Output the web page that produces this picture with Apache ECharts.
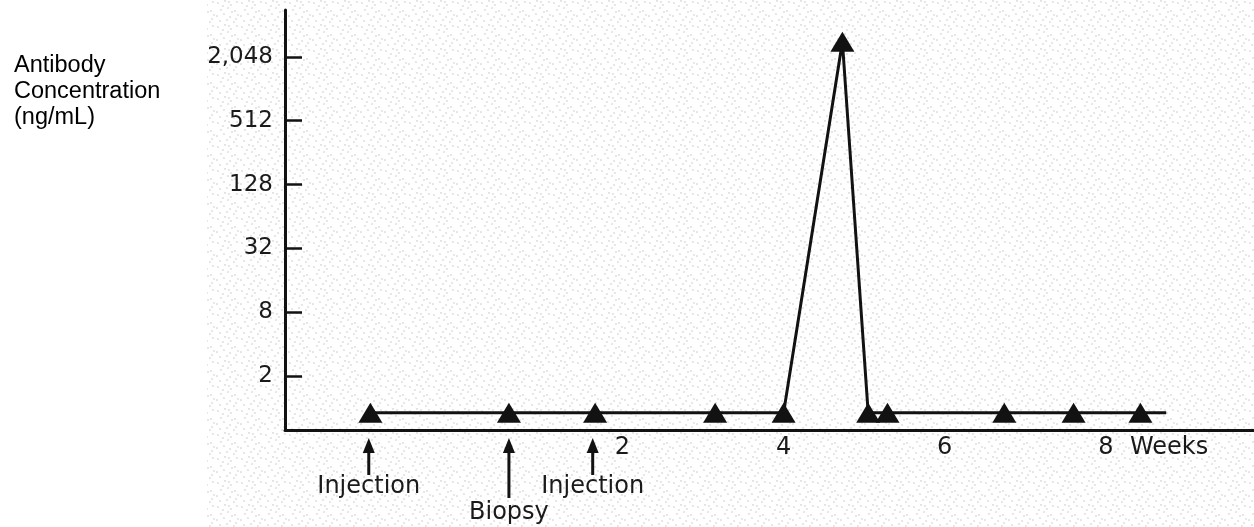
<!DOCTYPE html>
<html><head><meta charset="utf-8">
<script src="https://cdn.jsdelivr.net/npm/echarts@6/dist/echarts.min.js"></script>
<style>html,body{margin:0;padding:0;background:#fff}#c{width:1254px;height:527px}</style>
</head><body><div id="c"></div>
<script>
// ---- data ----
const weeks = [-1.13, 0.59, 1.66, 3.15, 4.0, 4.73, 5.05, 5.29, 6.74, 7.60, 8.43];
const concentration = [0.9, 0.9, 0.9, 0.9, 0.9, 2850, 0.9, 0.9, 0.9, 0.9, 0.9];
const lineEndWeek = 8.75;
const yTickValues = [2, 8, 32, 128, 512, 2048];
const yTickLabels = ['2', '8', '32', '128', '512', '2,048'];
const xTickValues = [2, 4, 6, 8];
const xTickLabels = ['2', '4', '6', '8'];
const xUnitLabel = 'Weeks';
const eventWeeks = [-1.15, 0.59, 1.63];
const eventLabels = ['Injection', 'Biopsy', 'Injection'];
const eventLevels = [0, 1, 0];
const yTitle = ['Antibody', 'Concentration', '(ng/mL)'];

const Y_MIN = 0.618, Y_MAX = 5680;
const X_MIN = -2.19, X_MAX = 9.84;
const INK = '#121212';
const FONT = 'DejaVu Sans';

// stipple texture tile for the scanned background
function makeTile() {
  const c = document.createElement('canvas');
  c.width = 24; c.height = 24;
  const g = c.getContext('2d');
  g.fillStyle = '#ffffff'; g.fillRect(0, 0, 24, 24);
  g.fillStyle = 'rgba(120,120,120,0.22)';
  const pts = [[2,3],[9,1],[15,5],[21,2],[5,10],[12,8],[19,11],[1,16],[8,14],[14,17],[22,15],[4,21],[11,20],[18,22],[16,12],[7,6],[20,19],[13,2]];
  pts.forEach(p => { g.beginPath(); g.arc(p[0], p[1], 1.1, 0, Math.PI * 2); g.fill(); });
  return c;
}

const lineData = weeks.map((w, i) => [w, concentration[i]]);
lineData.push({ value: [lineEndWeek, concentration[concentration.length - 1]], symbol: 'none' });

const chart = echarts.init(document.getElementById('c'), null, { renderer: 'canvas' });
chart.setOption({
  animation: false,
  backgroundColor: '#ffffff',
  title: {
    text: yTitle.join('\n'), left: 14, top: 53, padding: 0,
    textStyle: { fontSize: 23.5, fontWeight: 'normal', fontFamily: 'Liberation Sans', lineHeight: 26, color: '#000' }
  },
  graphic: [{
    type: 'rect', z: -10, silent: true,
    shape: { x: 207, y: 0, width: 1047, height: 527 },
    style: { fill: { image: makeTile(), repeat: 'repeat' } }
  }],
  grid: { left: 285, right: 0, top: 10, bottom: 97, containLabel: false, outerBoundsMode: 'none' },
  xAxis: {
    type: 'value', min: X_MIN, max: X_MAX,
    splitLine: { show: false },
    axisTick: { show: false },
    axisLine: { onZero: false, lineStyle: { color: INK, width: 3 } },
    axisLabel: {
      customValues: xTickValues, margin: 6,
      fontSize: 24, fontFamily: FONT, color: '#1a1a1a',
      formatter: v => {
        const i = xTickValues.indexOf(v);
        const t = i >= 0 ? xTickLabels[i] : String(v);
        return i === xTickValues.length - 1 ? '{p|}{n|' + t + '}{w|  ' + xUnitLabel + '}' : t;
      },
      rich: {
        p: { width: 96 },
        n: { fontSize: 24, fontFamily: FONT, color: '#1a1a1a' },
        w: { width: 96, align: 'left', fontSize: 24, fontFamily: FONT, color: '#1a1a1a' }
      }
    }
  },
  yAxis: {
    type: 'log', logBase: 2, min: Y_MIN, max: Y_MAX,
    splitLine: { show: false },
    axisLine: { onZero: false, lineStyle: { color: INK, width: 3 } },
    axisTick: { customValues: yTickValues, inside: true, length: 17, lineStyle: { color: INK, width: 2.5 } },
    axisLabel: {
      customValues: yTickValues, margin: 12,
      fontSize: 23, fontFamily: FONT, color: '#1a1a1a',
      formatter: v => { const i = yTickValues.indexOf(Math.round(v)); return i >= 0 ? yTickLabels[i] : ''; }
    }
  },
  series: [
    {
      type: 'line', data: lineData,
      symbol: 'triangle', symbolSize: [24, 20],
      lineStyle: { color: INK, width: 3 },
      itemStyle: { color: INK },
      z: 5
    },
    {
      type: 'custom',
      data: eventWeeks.map((w, i) => [w, Y_MIN, eventLevels[i]]),
      encode: { x: 0, y: 1 },
      clip: false,
      renderItem: (params, api) => {
        const cs = params.coordSys;
        const x = api.coord([api.value(0), Y_MIN])[0];
        const base = cs.y + cs.height;
        const level = api.value(2);
        const top = base + 8;
        const bottom = base + (level ? 68 : 45);
        const textY = base + (level ? 83 : 57);
        return {
          type: 'group',
          children: [
            { type: 'line', shape: { x1: x, y1: top + 10, x2: x, y2: bottom }, style: { stroke: INK, lineWidth: 3 } },
            { type: 'polygon', shape: { points: [[x, top], [x - 6, top + 15], [x + 6, top + 15]] }, style: { fill: INK } },
            { type: 'text', style: { text: eventLabels[params.dataIndex], x: x, y: textY, align: 'center', verticalAlign: 'middle', fontSize: 24, fontFamily: FONT, fill: '#1a1a1a' } }
          ]
        };
      }
    }
  ]
});
</script>
</body></html>
